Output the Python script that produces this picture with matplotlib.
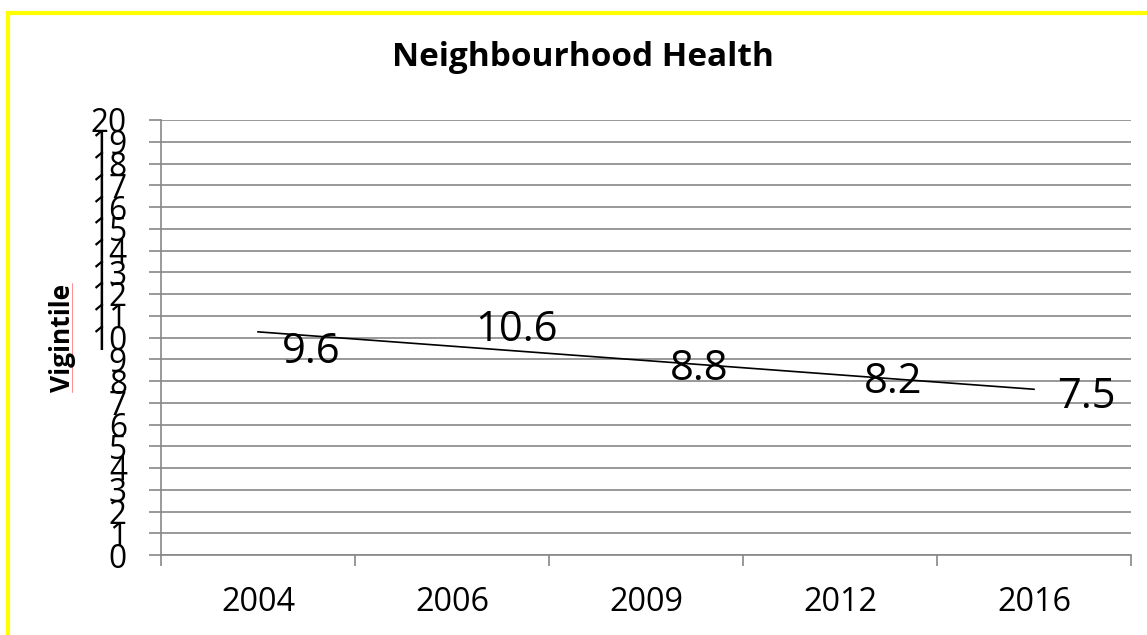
import matplotlib.pyplot as plt
import numpy as np
from matplotlib.patches import Rectangle
from matplotlib.lines import Line2D

years = ["2004", "2006", "2009", "2012", "2016"]
vigintile = [9.6, 10.6, 8.8, 8.2, 7.5]
y_ticks = list(range(0, 21))

plt.rcParams['font.family'] = ['Open Sans', 'DejaVu Sans']

grey = '#878787'

fig = plt.figure(figsize=(11.47, 6.35), dpi=100)
ax = fig.add_axes([161 / 1147, 1 - 555 / 635, 970 / 1147, 435 / 635])

x = np.arange(len(years)) + 0.5

# linear trendline, like the Excel one
coef = np.polyfit(np.arange(len(years)), vigintile, 1)
trend = np.polyval(coef, np.arange(len(years)))
ax.plot(x, trend, color='black', lw=1.2)

# data labels to the right of the (hidden) points
for xi, v in zip(x, vigintile):
    ax.annotate(str(v), (xi, v), xytext=(17, -4), textcoords='offset points',
                ha='left', va='center', fontsize=30)

ax.set_xlim(0, len(years))
ax.set_ylim(0, 20)
ax.set_yticks(y_ticks)
ax.set_yticklabels([str(t) for t in y_ticks])
ax.yaxis.grid(True, color=grey, lw=1.2)
ax.set_axisbelow(True)

ax.set_xticks(np.arange(len(years) + 1))
ax.set_xticklabels([])
ax.set_xticks(x, minor=True)
ax.set_xticklabels(years, minor=True, fontsize=23.3)
ax.tick_params(axis='x', which='major', length=8, width=1.2, color=grey, direction='out')
ax.tick_params(axis='x', which='minor', length=0, pad=22)
ax.tick_params(axis='y', length=8.5, width=1.2, color=grey, direction='out',
               labelsize=22.7, pad=16)

for s in ['top', 'right']:
    ax.spines[s].set_visible(False)
for s in ['left', 'bottom']:
    ax.spines[s].set_color(grey)
    ax.spines[s].set_linewidth(1.2)

fig.text(583 / 1147, 1 - 57 / 635, "Neighbourhood Health", ha='center', va='center',
         fontsize=24, fontweight='bold')
fig.text(62 / 1147, 1 - 338 / 635, "Vigintile", ha='center', va='center',
         rotation=90, fontsize=19, fontweight='bold')
fig.add_artist(Line2D([72 / 1147, 72 / 1147], [1 - 283 / 635, 1 - 392 / 635],
                      color='#ff8080', lw=0.6))

# yellow chart border (cut off on right and bottom)
fig.add_artist(Rectangle((8 / 1147, -0.05), 1.2, 1.05 - 13 / 635, transform=fig.transFigure,
                         fill=False, edgecolor='#ffff00', lw=3))

fig.savefig('out.png', dpi=100)
